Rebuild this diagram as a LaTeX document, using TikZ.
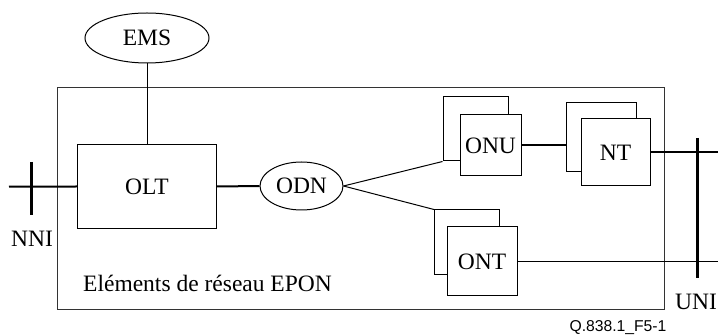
\documentclass[tikz,border=0pt]{standalone}
\usepackage{fontspec}
\setmainfont{Liberation Serif}
\newfontfamily\figfont{Liberation Sans}
\usetikzlibrary{shapes.geometric}

\begin{document}
\begin{tikzpicture}[
  x=1pt, y=-1pt,
  every node/.style = {
    inner sep=0pt,
    font=\fontsize{23.5}{28}\selectfont
  },
  box/.style = {
    shape=rectangle,
    draw,
    fill=white,
    line width=1pt
  },
  oval/.style = {
    shape=ellipse,
    draw,
    fill=white,
    line width=1pt
  },
  thin link/.style = {line width=1pt},
  thick link/.style = {line width=2pt},
  bar/.style = {line width=3pt}
]
\useasboundingbox (0,0) rectangle (718,336);

\draw[line width=0.9pt, black!80] (57.3,87.3) rectangle (664.7,309.3);

\node[oval, minimum width=124pt, minimum height=50pt] (ems) at (147,38) {EMS};
\node[box, minimum width=139.4pt, minimum height=84.4pt] (olt) at (147,186.5) {OLT};
\node[oval, minimum width=83pt, minimum height=48pt] (odn) at (301.5,186) {ODN};

\node[box, minimum width=65pt, minimum height=64pt] (onub) at (475.5,129) {};
\node[box, minimum width=61pt, minimum height=61pt] (onu) at (490.5,145.5) {ONU};
\node[box, minimum width=70pt, minimum height=69pt] (ntb) at (601,137.5) {};
\node[box, minimum width=69pt, minimum height=67pt] (nt) at (615.5,152.5) {NT};
\node[box, minimum width=65pt, minimum height=65pt] (ontb) at (467,242.5) {};
\node[box, minimum width=70pt, minimum height=69pt] (ont) at (482,261.5) {ONT};

\node (nni) at (32,239) {NNI};
\node[anchor=west] (uni) at (675,302) {UNI};
\node[anchor=base west] (epon) at (83,292) {Eléments de réseau EPON};
\node[font=\figfont\fontsize{15.7}{18}\selectfont] (fig) at (618,327.5) {Q.838.1\_F5-1};

\coordinate (nniL) at (9,186.7);
\coordinate (nniT) at (31,162);
\coordinate (nniB) at (31,215);
\coordinate (uniT) at (697,138);
\coordinate (uniB) at (697,278);
\coordinate (edge) at (718,0);

\draw[thin link] (ems.south) -- (olt.north);
\draw[thick link] (nniL) -- (olt.west);
\draw[bar] (nniT) -- (nniB);
\draw[thick link] (olt.east) -- (odn.west);
\draw[thin link] (odn.east) -- (onub.south west);
\draw[thin link] (odn.east) -- (ontb.north west);
\draw[thick link] (onu.east) -- (onu.east -| ntb.west);
\draw[thick link] (nt.east) -- (nt.east -| edge);
\draw[thin link] (ont.east) -- (ont.east -| edge);
\draw[bar] (uniT) -- (uniB);

\end{tikzpicture}
\end{document}
